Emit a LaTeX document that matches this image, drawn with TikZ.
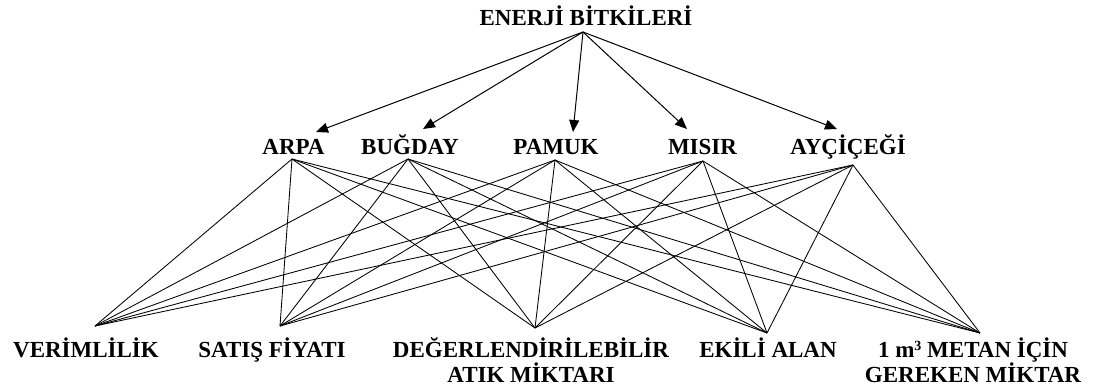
\documentclass[tikz,border=0pt]{standalone}
\usepackage{fontspec}
\setmainfont{Liberation Serif}
\usetikzlibrary{arrows.meta}
\begin{document}
\begin{tikzpicture}[x=1pt,y=-1pt,
  lbl/.style={font=\fontsize{23}{25}\selectfont\bfseries, anchor=base, inner sep=0pt, align=center},
  arr/.style={line width=1pt, -{Triangle[length=12pt,width=10pt]}},
  lnk/.style={line width=0.85pt}]
\useasboundingbox (0,0) rectangle (1097,390);
% labels
\node[lbl] (top) at (586,26) {ENERJİ BİTKİLERİ};
\node[lbl] (arpa) at (293.5,155) {ARPA};
\node[lbl] (bugday) at (410,155) {BUĞDAY};
\node[lbl] (pamuk) at (556,155) {PAMUK};
\node[lbl] (misir) at (702.5,155) {MISIR};
\node[lbl] (aycicegi) at (848,155) {AYÇİÇEĞİ};
\node[lbl] (verim) at (86,357) {VERİMLİLİK};
\node[lbl] (satis) at (272,357) {SATIŞ FİYATI};
\node[lbl] (deger) at (531,357) {DEĞERLENDİRİLEBİLİR};
\node[lbl] (deger2) at (531,382) {ATIK MİKTARI};
\node[lbl] (ekili) at (768,357) {EKİLİ ALAN};
\node[lbl] (metan) at (973,357) {1 m\raisebox{7pt}{\fontsize{14}{14}\selectfont 3} METAN İÇİN};
\node[lbl] (metan2) at (973,382) {GEREKEN MİKTAR};
% connection points
\coordinate (apex) at (583,32);
\coordinate (tA) at (316,132);
\coordinate (tB) at (423,129);
\coordinate (tP) at (573,132);
\coordinate (tM) at (687,129);
\coordinate (tY) at (837,129);
\coordinate (sA) at (292,159);
\coordinate (sB) at (408,159);
\coordinate (sP) at (555,160);
\coordinate (sM) at (703,161);
\coordinate (sY) at (853,165);
\coordinate (eV) at (95,326);
\coordinate (eS) at (280,326);
\coordinate (eD) at (535,328);
\coordinate (eE) at (767,333);
\coordinate (eG) at (980,333);
% arrows
\foreach \t in {tA,tB,tP,tM,tY} \draw[arr] (apex) -- (\t);
% links
\foreach \s in {sA,sB,sP,sM,sY}
  \foreach \e in {eV,eS,eD,eE,eG}
    \draw[lnk] (\s) -- (\e);
\end{tikzpicture}
\end{document}
